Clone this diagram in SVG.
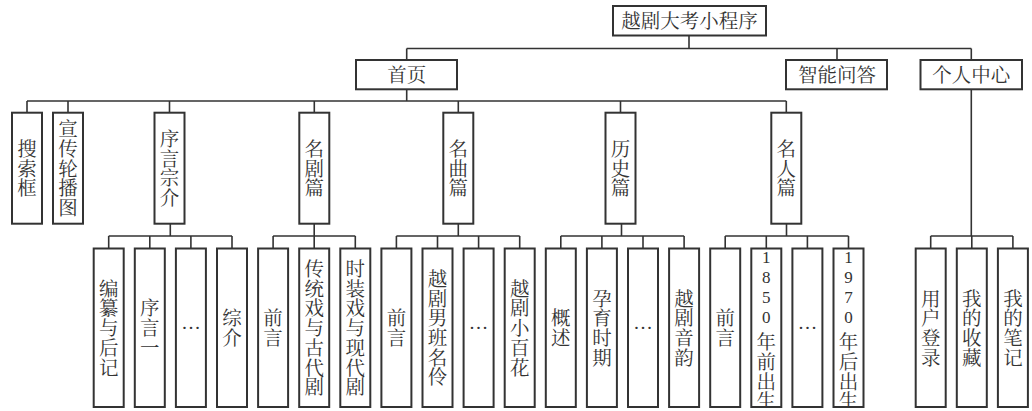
<svg xmlns="http://www.w3.org/2000/svg" width="1032" height="411" viewBox="0 0 1032 411">
<style>
.box{fill:#fff;stroke:#333;stroke-width:2}
.ln{fill:none;stroke:#333;stroke-width:1.6}
.t{font-family:"Liberation Serif","Noto Serif CJK SC","Noto Sans CJK SC",serif;font-size:19.5px;fill:#333;text-anchor:middle}
.d{font-size:17px}
</style>
<defs>
<clipPath id="c16"><rect x="751.3" y="249.5" width="30" height="156.5"/></clipPath>
<clipPath id="c18"><rect x="833.5" y="249.5" width="30" height="156.5"/></clipPath>
</defs>
<rect width="1032" height="411" fill="#fff"/>
<g id="connectors">
<path class="ln" d="M689,35.5V48.5M406.7,48.5H971.3M406.7,48.5V60M837,48.5V60M971.3,48.5V60
M406.7,89.3V101M27,101H786.3M27,101V112.7M68,101V112.7M169.5,101V112.7M314.3,101V112.7M458.3,101V112.7M620.5,101V112.7M786.3,101V112.7
M170.3,223.7V236M108.7,236H232M108.7,236V248.5M149.8,236V248.5M190.9,236V248.5M232,236V248.5
M314.2,223.7V236M273.1,236H355.3M273.1,236V248.5M314.2,236V248.5M355.3,236V248.5
M458.3,223.7V236M396.4,236H519.7M396.4,236V248.5M437.5,236V248.5M478.6,236V248.5M519.7,236V248.5
M621.5,223.7V236M560.8,236H684.1M560.8,236V248.5M601.9,236V248.5M643,236V248.5M684.1,236V248.5
M786.5,223.7V236M725.2,236H848.5M725.2,236V248.5M766.3,236V248.5M807.4,236V248.5M848.5,236V248.5
M971.3,89.3V236M930.7,236H1012.9M930.7,236V248.5M971.8,236V248.5M1012.9,236V248.5"/>
</g>
<g id="root"><rect class="box" x="613" y="6" width="153" height="29.5"/><text class="t" x="689.5" y="28.2">越剧大考小程序</text></g>
<g id="shouye"><rect class="box" x="356" y="60" width="101" height="29.3"/><text class="t" x="406.7" y="81.9">首页</text></g>
<g id="zhineng"><rect class="box" x="786" y="60" width="101" height="29.3"/><text class="t" x="837" y="81.9">智能问答</text></g>
<g id="geren"><rect class="box" x="920.5" y="60" width="101.5" height="29.3"/><text class="t" x="971.3" y="81.9">个人中心</text></g>

<g id="sousuo"><rect class="box" x="12" y="112.7" width="30" height="111"/><text class="t"><tspan x="27" y="156">搜</tspan><tspan x="27" y="175.6">索</tspan><tspan x="27" y="195.2">框</tspan></text></g>
<g id="xuanchuan"><rect class="box" x="53" y="112.7" width="30" height="111"/><text class="t"><tspan x="68" y="136.4">宣</tspan><tspan x="68" y="156">传</tspan><tspan x="68" y="175.6">轮</tspan><tspan x="68" y="195.2">播</tspan><tspan x="68" y="214.8">图</tspan></text></g>
<g id="xuyan"><rect class="box" x="154.5" y="112.7" width="30" height="111"/><text class="t"><tspan x="169.5" y="146.2">序</tspan><tspan x="169.5" y="165.8">言</tspan><tspan x="169.5" y="185.4">宗</tspan><tspan x="169.5" y="205">介</tspan></text></g>
<g id="mingju"><rect class="box" x="299.3" y="112.7" width="30" height="111"/><text class="t"><tspan x="314.3" y="156">名</tspan><tspan x="314.3" y="175.6">剧</tspan><tspan x="314.3" y="195.2">篇</tspan></text></g>
<g id="mingqu"><rect class="box" x="443.3" y="112.7" width="30" height="111"/><text class="t"><tspan x="458.3" y="156">名</tspan><tspan x="458.3" y="175.6">曲</tspan><tspan x="458.3" y="195.2">篇</tspan></text></g>
<g id="lishi"><rect class="box" x="605.5" y="112.7" width="30" height="111"/><text class="t"><tspan x="620.5" y="156">历</tspan><tspan x="620.5" y="175.6">史</tspan><tspan x="620.5" y="195.2">篇</tspan></text></g>
<g id="mingren"><rect class="box" x="771.3" y="112.7" width="30" height="111"/><text class="t"><tspan x="786.3" y="156">名</tspan><tspan x="786.3" y="175.6">人</tspan><tspan x="786.3" y="195.2">篇</tspan></text></g>

<g id="k0"><rect class="box" x="93.7" y="248.5" width="30" height="158.5"/><text class="t"><tspan x="108.7" y="295.7">编</tspan><tspan x="108.7" y="315.4">纂</tspan><tspan x="108.7" y="335.1">与</tspan><tspan x="108.7" y="354.8">后</tspan><tspan x="108.7" y="374.5">记</tspan></text></g>
<g id="k1"><rect class="box" x="134.8" y="248.5" width="30" height="158.5"/><text class="t"><tspan x="149.8" y="315.4">序</tspan><tspan x="149.8" y="335.1">言</tspan><tspan x="149.8" y="354.8">一</tspan></text></g>
<g id="k2"><rect class="box" x="175.9" y="248.5" width="30" height="158.5"/><text class="t" x="190.9" y="328.5">…</text></g>
<g id="k3"><rect class="box" x="217" y="248.5" width="30" height="158.5"/><text class="t"><tspan x="232" y="325.3">综</tspan><tspan x="232" y="345">介</tspan></text></g>

<g id="k4"><rect class="box" x="258.1" y="248.5" width="30" height="158.5"/><text class="t"><tspan x="273.1" y="325.3">前</tspan><tspan x="273.1" y="345">言</tspan></text></g>
<g id="k5"><rect class="box" x="299.2" y="248.5" width="30" height="158.5"/><text class="t"><tspan x="314.2" y="276">传</tspan><tspan x="314.2" y="295.7">统</tspan><tspan x="314.2" y="315.4">戏</tspan><tspan x="314.2" y="335.1">与</tspan><tspan x="314.2" y="354.8">古</tspan><tspan x="314.2" y="374.5">代</tspan><tspan x="314.2" y="394.2">剧</tspan></text></g>
<g id="k6"><rect class="box" x="340.3" y="248.5" width="30" height="158.5"/><text class="t"><tspan x="355.3" y="276">时</tspan><tspan x="355.3" y="295.7">装</tspan><tspan x="355.3" y="315.4">戏</tspan><tspan x="355.3" y="335.1">与</tspan><tspan x="355.3" y="354.8">现</tspan><tspan x="355.3" y="374.5">代</tspan><tspan x="355.3" y="394.2">剧</tspan></text></g>

<g id="k7"><rect class="box" x="381.4" y="248.5" width="30" height="158.5"/><text class="t"><tspan x="396.4" y="325.3">前</tspan><tspan x="396.4" y="345">言</tspan></text></g>
<g id="k8"><rect class="box" x="422.5" y="248.5" width="30" height="158.5"/><text class="t"><tspan x="437.5" y="285.9">越</tspan><tspan x="437.5" y="305.6">剧</tspan><tspan x="437.5" y="325.3">男</tspan><tspan x="437.5" y="345">班</tspan><tspan x="437.5" y="364.7">名</tspan><tspan x="437.5" y="384.4">伶</tspan></text></g>
<g id="k9"><rect class="box" x="463.6" y="248.5" width="30" height="158.5"/><text class="t" x="478.6" y="328.5">…</text></g>
<g id="k10"><rect class="box" x="504.7" y="248.5" width="30" height="158.5"/><text class="t"><tspan x="519.7" y="295.7">越</tspan><tspan x="519.7" y="315.4">剧</tspan><tspan x="519.7" y="335.1">小</tspan><tspan x="519.7" y="354.8">百</tspan><tspan x="519.7" y="374.5">花</tspan></text></g>

<g id="k11"><rect class="box" x="545.8" y="248.5" width="30" height="158.5"/><text class="t"><tspan x="560.8" y="325.3">概</tspan><tspan x="560.8" y="345">述</tspan></text></g>
<g id="k12"><rect class="box" x="586.9" y="248.5" width="30" height="158.5"/><text class="t"><tspan x="601.9" y="305.6">孕</tspan><tspan x="601.9" y="325.3">育</tspan><tspan x="601.9" y="345">时</tspan><tspan x="601.9" y="364.7">期</tspan></text></g>
<g id="k13"><rect class="box" x="628" y="248.5" width="30" height="158.5"/><text class="t" x="643" y="328.5">…</text></g>
<g id="k14"><rect class="box" x="669.1" y="248.5" width="30" height="158.5"/><text class="t"><tspan x="684.1" y="305.6">越</tspan><tspan x="684.1" y="325.3">剧</tspan><tspan x="684.1" y="345">音</tspan><tspan x="684.1" y="364.7">韵</tspan></text></g>

<g id="k15"><rect class="box" x="710.2" y="248.5" width="30" height="158.5"/><text class="t"><tspan x="725.2" y="325.3">前</tspan><tspan x="725.2" y="345">言</tspan></text></g>
<g id="k16"><rect class="box" x="751.3" y="248.5" width="30" height="158.5"/><text class="t" clip-path="url(#c16)"><tspan class="d" x="766.3" y="263.1">1</tspan><tspan class="d" x="766.3" y="283.1">8</tspan><tspan class="d" x="766.3" y="303.1">5</tspan><tspan class="d" x="766.3" y="323.1">0</tspan><tspan x="766.3" y="349.1">年</tspan><tspan x="766.3" y="368.8">前</tspan><tspan x="766.3" y="388.5">出</tspan><tspan x="766.3" y="408.2">生</tspan></text></g>
<g id="k17"><rect class="box" x="792.4" y="248.5" width="30" height="158.5"/><text class="t" x="807.4" y="328.5">…</text></g>
<g id="k18"><rect class="box" x="833.5" y="248.5" width="30" height="158.5"/><text class="t" clip-path="url(#c18)"><tspan class="d" x="848.5" y="263.1">1</tspan><tspan class="d" x="848.5" y="283.1">9</tspan><tspan class="d" x="848.5" y="303.1">7</tspan><tspan class="d" x="848.5" y="323.1">0</tspan><tspan x="848.5" y="349.1">年</tspan><tspan x="848.5" y="368.8">后</tspan><tspan x="848.5" y="388.5">出</tspan><tspan x="848.5" y="408.2">生</tspan></text></g>

<g id="k20"><rect class="box" x="915.7" y="248.5" width="30" height="158.5"/><text class="t"><tspan x="930.7" y="305.6">用</tspan><tspan x="930.7" y="325.3">户</tspan><tspan x="930.7" y="345">登</tspan><tspan x="930.7" y="364.7">录</tspan></text></g>
<g id="k21"><rect class="box" x="956.8" y="248.5" width="30" height="158.5"/><text class="t"><tspan x="971.8" y="305.6">我</tspan><tspan x="971.8" y="325.3">的</tspan><tspan x="971.8" y="345">收</tspan><tspan x="971.8" y="364.7">藏</tspan></text></g>
<g id="k22"><rect class="box" x="997.9" y="248.5" width="30" height="158.5"/><text class="t"><tspan x="1012.9" y="305.6">我</tspan><tspan x="1012.9" y="325.3">的</tspan><tspan x="1012.9" y="345">笔</tspan><tspan x="1012.9" y="364.7">记</tspan></text></g>
</svg>
